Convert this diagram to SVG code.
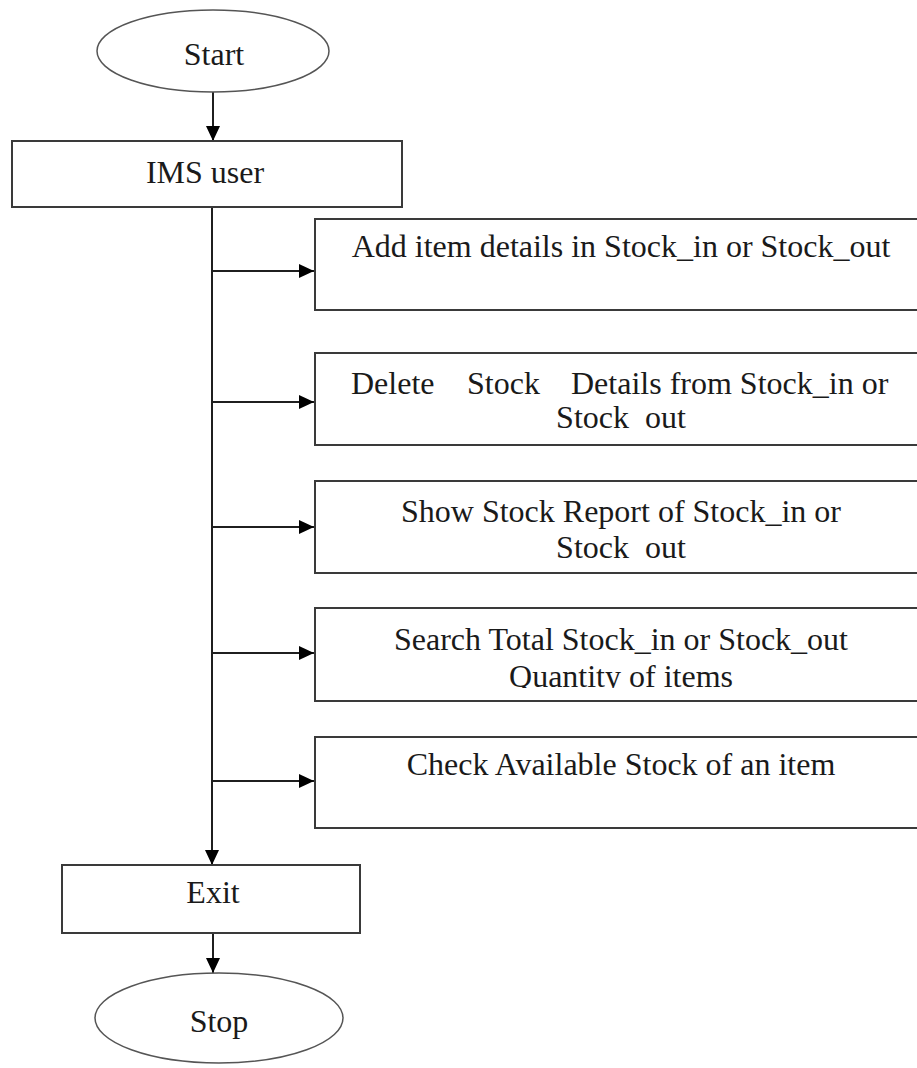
<svg xmlns="http://www.w3.org/2000/svg" width="917" height="1068" viewBox="0 0 917 1068">
  <style>
    .shape { fill: #ffffff; stroke: #3a3a3a; stroke-width: 2; }
    .term { fill: #ffffff; stroke: #555555; stroke-width: 1.5; }
    .lbl { font-family: "Liberation Serif", "Times New Roman", serif; font-size: 32px; fill: #1a1a1a; text-anchor: middle; }
    .lbl-l { font-family: "Liberation Serif", "Times New Roman", serif; font-size: 32px; fill: #1a1a1a; }
    .wire { fill: none; stroke: #1f1f1f; stroke-width: 2; }
  </style>
  <defs>
    <marker id="arrow" markerUnits="userSpaceOnUse" markerWidth="16" markerHeight="14" refX="15" refY="7" orient="auto">
      <path d="M0,0 L15,7 L0,14 Z" fill="#000000"/>
    </marker>
    <!-- second-line text frames cut just below the baseline -->
    <clipPath id="cut2"><rect x="315" y="400" width="620" height="29"/></clipPath>
    <clipPath id="cut3"><rect x="315" y="530" width="620" height="29"/></clipPath>
    <clipPath id="cut4"><rect x="315" y="660" width="620" height="28"/></clipPath>
  </defs>

  <rect width="917" height="1068" fill="#ffffff"/>

  <g id="connectors">
    <line class="wire" x1="213" y1="92" x2="213" y2="141" marker-end="url(#arrow)"/>
    <line class="wire" x1="212" y1="207" x2="212" y2="865" marker-end="url(#arrow)"/>
    <line class="wire" x1="212" y1="271" x2="314" y2="271" marker-end="url(#arrow)"/>
    <line class="wire" x1="212" y1="402" x2="314" y2="402" marker-end="url(#arrow)"/>
    <line class="wire" x1="212" y1="527" x2="314" y2="527" marker-end="url(#arrow)"/>
    <line class="wire" x1="212" y1="653" x2="314" y2="653" marker-end="url(#arrow)"/>
    <line class="wire" x1="212" y1="781" x2="314" y2="781" marker-end="url(#arrow)"/>
    <line class="wire" x1="213" y1="933" x2="213" y2="973" marker-end="url(#arrow)"/>
  </g>

  <g id="start">
    <ellipse class="term" cx="213" cy="51" rx="116" ry="41"/>
    <text class="lbl" x="214" y="65">Start</text>
  </g>

  <g id="ims-user">
    <rect class="shape" x="12" y="141" width="390" height="66"/>
    <text class="lbl" x="205" y="183">IMS user</text>
  </g>

  <g id="add-item">
    <rect class="shape" x="315" y="219" width="620" height="91"/>
    <text class="lbl" x="621" y="257">Add item details in Stock_in or Stock_out</text>
  </g>

  <g id="delete-stock">
    <rect class="shape" x="315" y="353" width="620" height="92"/>
    <text class="lbl-l" x="351" y="394">Delete</text>
    <text class="lbl-l" x="467" y="394">Stock</text>
    <text class="lbl-l" x="571" y="394">Details from Stock_in or</text>
    <text class="lbl" x="621" y="428" clip-path="url(#cut2)">Stock_out</text>
  </g>

  <g id="show-report">
    <rect class="shape" x="315" y="481" width="620" height="92"/>
    <text class="lbl" x="621" y="522">Show Stock Report of Stock_in or</text>
    <text class="lbl" x="621" y="558" clip-path="url(#cut3)">Stock_out</text>
  </g>

  <g id="search-total">
    <rect class="shape" x="315" y="608" width="620" height="93"/>
    <text class="lbl" x="621" y="650">Search Total Stock_in or Stock_out</text>
    <text class="lbl" x="621" y="687" clip-path="url(#cut4)">Quantity of items</text>
  </g>

  <g id="check-available">
    <rect class="shape" x="315" y="737" width="620" height="91"/>
    <text class="lbl" x="621" y="775">Check Available Stock of an item</text>
  </g>

  <g id="exit">
    <rect class="shape" x="62" y="865" width="298" height="68"/>
    <text class="lbl" x="213" y="903">Exit</text>
  </g>

  <g id="stop">
    <ellipse class="term" cx="219" cy="1018" rx="124" ry="45"/>
    <text class="lbl" x="219" y="1032">Stop</text>
  </g>
</svg>
